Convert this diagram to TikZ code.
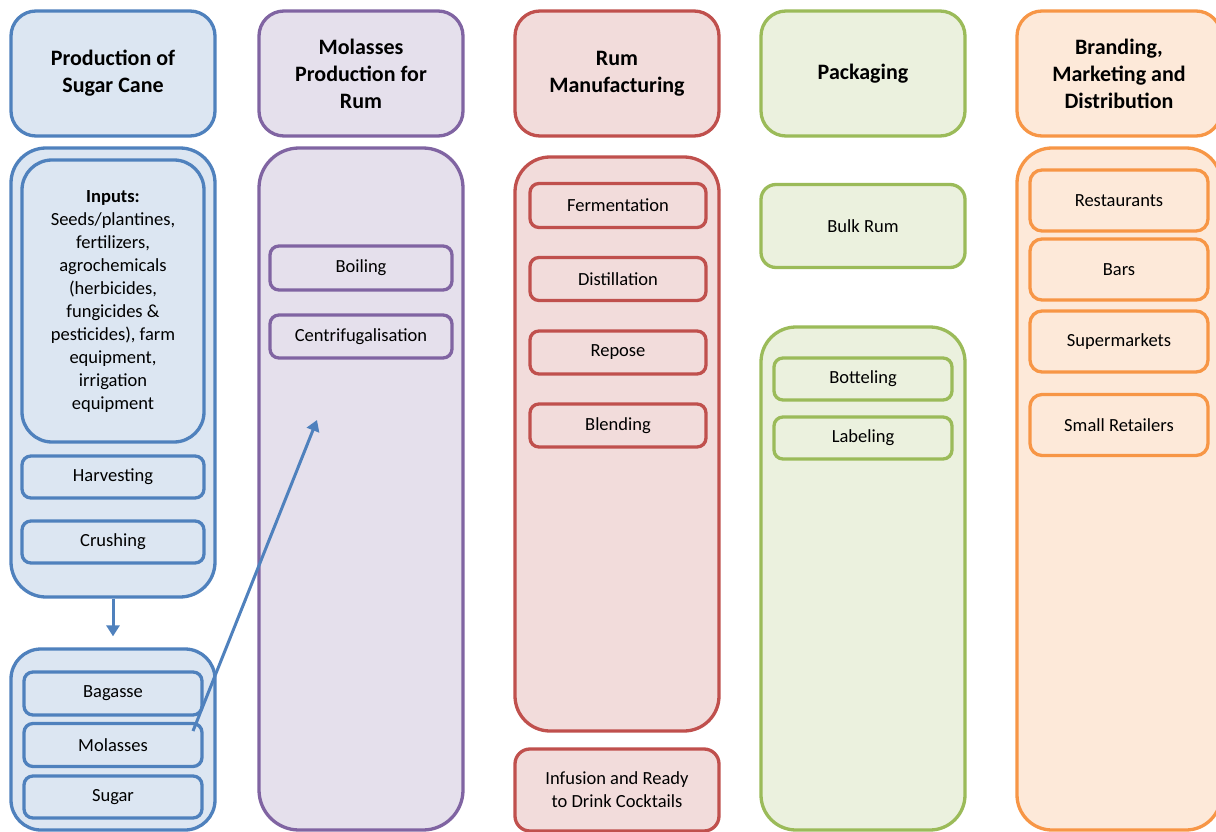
\documentclass[tikz,border=0pt]{standalone}
\usepackage{fontspec}
\setmainfont{Carlito}
\usetikzlibrary{arrows.meta}
\definecolor{bstr}{HTML}{4F81BD}\definecolor{bfil}{HTML}{DCE6F2}
\definecolor{pstr}{HTML}{8064A2}\definecolor{pfil}{HTML}{E5E0EC}
\definecolor{rstr}{HTML}{C0504D}\definecolor{rfil}{HTML}{F2DCDB}
\definecolor{gstr}{HTML}{9BBB59}\definecolor{gfil}{HTML}{EBF1DE}
\definecolor{ostr}{HTML}{F79646}\definecolor{ofil}{HTML}{FDE9D9}
\begin{document}
\begin{tikzpicture}[x=1pt,y=-1pt,
  base/.style={rectangle, line width=3.3pt, inner sep=0pt, align=center, font=\fontsize{18.5}{23}\selectfont},
  bluebox/.style={base, draw=bstr, fill=bfil},
  purplebox/.style={base, draw=pstr, fill=pfil},
  redbox/.style={base, draw=rstr, fill=rfil},
  greenbox/.style={base, draw=gstr, fill=gfil},
  orangebox/.style={base, draw=ostr, fill=ofil},
  titlebox/.style={minimum width=204pt, minimum height=125pt, rounded corners=25pt, font=\fontsize{22}{27}\selectfont\bfseries},
  bigbox/.style={minimum width=204pt, rounded corners=35pt},
  smallbox/.style={rounded corners=9pt},
  conn/.style={draw=bstr, line width=3pt, -{Triangle[width=13pt,length=11pt]}}
]
\useasboundingbox (0,0) rectangle (1216,832);
\clip (0,0) rectangle (1216,832);
\fill[white] (0,0) rectangle (1216,832);
% Column 1
\node[bluebox, titlebox] (t1) at (113,73.5) {Production of\\Sugar Cane};
\node[bluebox, bigbox, minimum height=449pt] (b1) at (113,372.5) {};
\node[bluebox, minimum width=182pt, minimum height=282pt, rounded corners=30pt] (inputs) at (113,301)
  {\textbf{Inputs:}\\Seeds/plantines,\\fertilizers,\\agrochemicals\\(herbicides,\\fungicides \&\\pesticides), farm\\equipment,\\irrigation\\equipment};
\node[bluebox, smallbox, minimum width=182pt, minimum height=42pt] (harv) at (113,477) {Harvesting};
\node[bluebox, smallbox, minimum width=182pt, minimum height=42pt] (crush) at (113,542) {Crushing};
\node[bluebox, bigbox, minimum height=181pt, rounded corners=30pt] (b1b) at (113,739.5) {};
\node[bluebox, smallbox, minimum width=178pt, minimum height=43pt] (bagasse) at (113,693.5) {Bagasse};
\node[bluebox, smallbox, minimum width=178pt, minimum height=43pt] (molasses) at (113,745) {Molasses};
\node[bluebox, smallbox, minimum width=178pt, minimum height=42pt] (sugar) at (113,797) {Sugar};
% Column 2
\node[purplebox, titlebox] (t2) at (361,73.5) {Molasses\\Production for\\Rum};
\node[purplebox, bigbox, minimum height=682pt, rounded corners=40pt] (b2) at (361,489) {};
\node[purplebox, smallbox, minimum width=182pt, minimum height=44pt] (boil) at (361,268) {Boiling};
\node[purplebox, smallbox, minimum width=182pt, minimum height=43pt] (centr) at (361,336.5) {Centrifugalisation};
% Column 3
\node[redbox, titlebox] (t3) at (617,73.5) {Rum\\Manufacturing};
\node[redbox, bigbox, minimum height=574pt] (b3) at (617,444) {};
\node[redbox, smallbox, minimum width=176pt, minimum height=44pt] (ferm) at (618,205.5) {Fermentation};
\node[redbox, smallbox, minimum width=176pt, minimum height=43pt] (dist) at (618,279) {Distillation};
\node[redbox, smallbox, minimum width=176pt, minimum height=43pt] (repose) at (618,352.5) {Repose};
\node[redbox, smallbox, minimum width=176pt, minimum height=43pt] (blend) at (618,425.5) {Blending};
\node[redbox, minimum width=204pt, minimum height=82pt, rounded corners=15pt] (infusion) at (617,790) {Infusion and Ready\\to Drink Cocktails};
% Column 4
\node[greenbox, titlebox] (t4) at (863,73.5) {Packaging};
\node[greenbox, minimum width=204pt, minimum height=83pt, rounded corners=15pt] (bulk) at (863,226) {Bulk Rum};
\node[greenbox, bigbox, minimum height=503pt] (b4) at (863,578.5) {};
\node[greenbox, smallbox, minimum width=178pt, minimum height=42pt] (bottle) at (863,379) {Botteling};
\node[greenbox, smallbox, minimum width=178pt, minimum height=42pt] (label) at (863,438) {Labeling};
% Column 5
\node[orangebox, titlebox] (t5) at (1119,73.5) {Branding,\\Marketing and\\Distribution};
\node[orangebox, bigbox, minimum height=682pt] (b5) at (1119,489) {};
\node[orangebox, smallbox, rounded corners=12pt, minimum width=178pt, minimum height=61pt] (rest) at (1119,200.5) {Restaurants};
\node[orangebox, smallbox, rounded corners=12pt, minimum width=178pt, minimum height=61pt] (bars) at (1119,269.5) {Bars};
\node[orangebox, smallbox, rounded corners=12pt, minimum width=178pt, minimum height=61pt] (super) at (1119,341.5) {Supermarkets};
\node[orangebox, smallbox, rounded corners=12pt, minimum width=178pt, minimum height=61pt] (small) at (1119,425) {Small Retailers};
% Connectors
\draw[conn, shorten >=11pt] (b1.south) -- (b1b.north);
\coordinate (molout) at (193,731);
\coordinate (purin) at (317,420);
\draw[conn] (molout) -- (purin);
\end{tikzpicture}
\end{document}
